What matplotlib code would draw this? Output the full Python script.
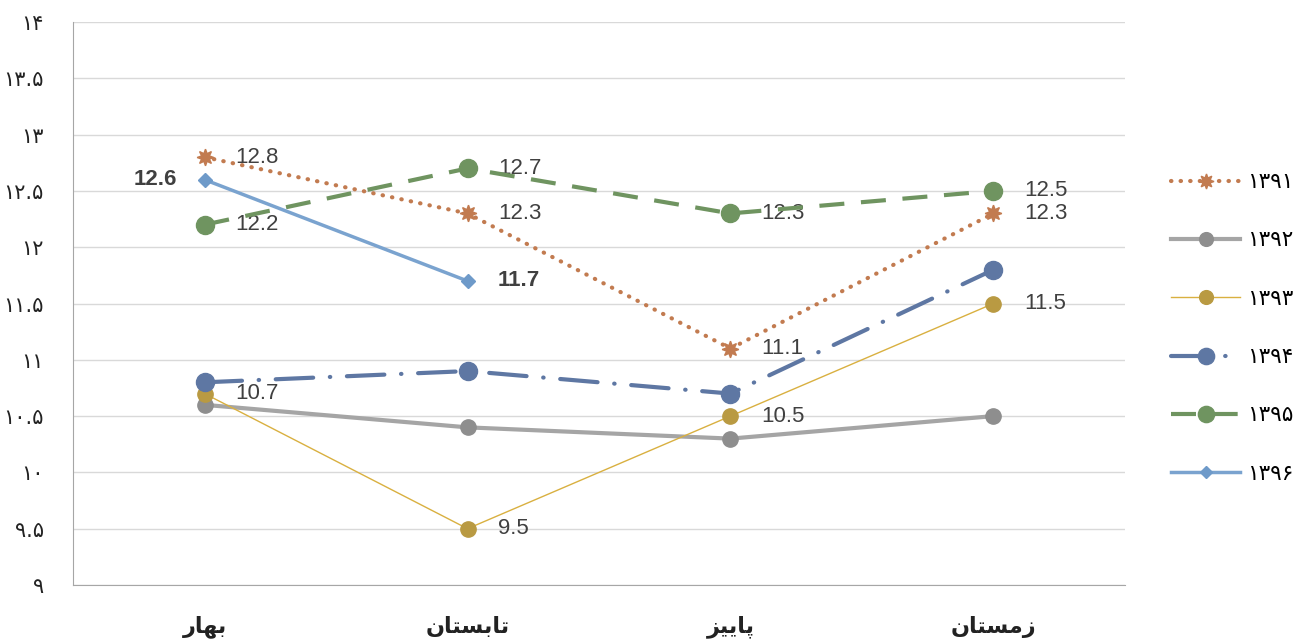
import matplotlib
matplotlib.use("Agg")
import matplotlib.pyplot as plt
from matplotlib.ticker import FixedLocator

# Persian labels written as presentation forms in visual (left-to-right) order
seasons = [
    "\uFEAD\uFE8E\uFEEC\uFE91",                      # bahar
    "\uFEE5\uFE8E\uFE98\uFEB4\uFE91\uFE8E\uFE97",    # tabestan
    "\uFEB0\uFEF4\uFEF3\uFE8E\uFB58",                # paeez
    "\uFEE5\uFE8E\uFE98\uFEB4\uFEE3\uFEAF",          # zemestan
]
years = ["۱۳۹۱", "۱۳۹۲", "۱۳۹۳", "۱۳۹۴", "۱۳۹۵", "۱۳۹۶"]

v1391 = [12.8, 12.3, 11.1, 12.3]
v1392 = [10.6, 10.4, 10.3, 10.5]
v1393 = [10.7, 9.5, 10.5, 11.5]
v1394 = [10.8, 10.9, 10.7, 11.8]
v1395 = [12.2, 12.7, 12.3, 12.5]
v1396 = [12.6, 11.7]

yticks = [9, 9.5, 10, 10.5, 11, 11.5, 12, 12.5, 13, 13.5, 14]
ytick_labels = ["۹", "۹.۵", "۱۰", "۱۰.۵", "۱۱", "۱۱.۵", "۱۲", "۱۲.۵", "۱۳", "۱۳.۵", "۱۴"]

LABEL_FONT = ["Liberation Sans", "DejaVu Sans"]
FA_FONT = ["DejaVu Sans"]

fig = plt.figure(figsize=(13.09, 6.42), dpi=100)
ax = fig.add_axes([0.0558, 0.0888, 0.8036, 0.8769])

x = list(range(4))

ax.plot(x, v1391, color="#C27B50", lw=3, linestyle=(0, (0.1, 2.2)),
        dash_capstyle="round", marker=(8, 1, 0), ms=12,
        mfc="#C27B50", mec="#C27B50", label=years[0], zorder=4)
ax.plot(x, v1392, color="#A5A5A5", lw=3, marker="o", ms=11,
        mfc="#8E8E8E", mec="#8E8E8E", label=years[1], zorder=3)
ax.plot(x, v1393, color="#D9B040", lw=1, marker="o", ms=11,
        mfc="#B99A42", mec="#B99A42", label=years[2], zorder=3)
ax.plot(x, v1394, color="#5E77A3", lw=3, linestyle=(0, (9, 4, 0.1, 4)),
        dash_capstyle="round", marker="o", ms=13,
        mfc="#5E77A3", mec="#5E77A3", label=years[3], zorder=3)
ax.plot(x, v1395, color="#6F9460", lw=3, linestyle=(0, (6, 4)),
        marker="o", ms=13, mfc="#6F9460", mec="#6F9460",
        label=years[4], zorder=3)
ax.plot(x[:2], v1396, color="#7AA3CF", lw=2.5, marker="D", ms=7,
        mfc="#6E9AC9", mec="#6E9AC9", label=years[5], zorder=5)

# data labels
def label_series(vals, idxs, bold=False, dx=22):
    for i in idxs:
        ax.annotate(f"{vals[i]:.1f}", (i, vals[i]), textcoords="offset points",
                    xytext=(dx, 0), ha="left", va="center", fontsize=16,
                    color="#404040", family=LABEL_FONT,
                    fontweight="bold" if bold else "normal", zorder=2)

label_series(v1391, range(4))
label_series(v1393, range(4))
label_series(v1395, range(4))
ax.annotate(f"{v1396[0]:.1f}", (0, v1396[0]), textcoords="offset points",
            xytext=(-20, 0), ha="right", va="center", fontsize=16,
            color="#404040", family=LABEL_FONT, fontweight="bold")
ax.annotate(f"{v1396[1]:.1f}", (1, v1396[1]), textcoords="offset points",
            xytext=(22, 0), ha="left", va="center", fontsize=16,
            color="#404040", family=LABEL_FONT, fontweight="bold")

ax.set_xlim(-0.5, 3.5)
ax.set_ylim(9, 14)
ax.yaxis.set_major_locator(FixedLocator(yticks))
ax.set_yticklabels(ytick_labels, family=FA_FONT, fontsize=15, color="#222222")
ax.set_xticks(x)
ax.set_xticklabels(seasons, family=FA_FONT, fontsize=16, fontweight="bold",
                   color="#222222")
ax.tick_params(axis="y", length=0, pad=21)
ax.tick_params(axis="x", length=0, pad=22)
ax.grid(axis="y", color="#D9D9D9", lw=1)
ax.set_axisbelow(True)
for side in ["top", "right"]:
    ax.spines[side].set_visible(False)
ax.spines["left"].set_color("#A6A6A6")
ax.spines["bottom"].set_color("#A6A6A6")

leg = fig.legend(loc="upper left", bbox_to_anchor=(0.880, 0.762),
                 frameon=False, prop={"family": FA_FONT, "size": 15.5},
                 handlelength=3.2, labelspacing=1.78, handletextpad=0.3,
                 markerscale=0.9)

fig.savefig("out.png", dpi=100)
